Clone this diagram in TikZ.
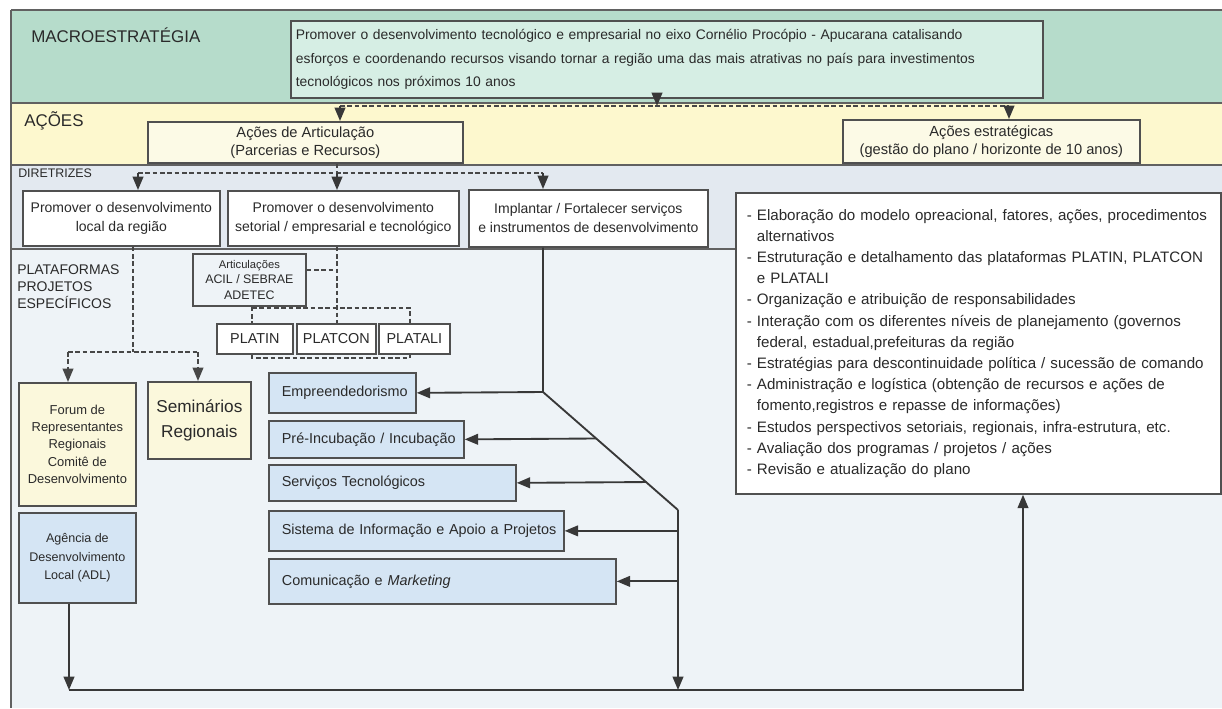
\documentclass[tikz,border=0pt]{standalone}
\usepackage{fontspec}
\setmainfont{Liberation Sans}
\usetikzlibrary{arrows.meta,calc}
\definecolor{gband}{HTML}{B6DCCB}
\definecolor{gbox}{HTML}{D6EEE4}
\definecolor{yband}{HTML}{FDF8CE}
\definecolor{ybox}{HTML}{FCFAE6}
\definecolor{dband}{HTML}{E3E9F0}
\definecolor{lowbg}{HTML}{EEF3F7}
\definecolor{bluebox}{HTML}{D5E5F4}
\definecolor{cream}{HTML}{FBF8DC}
\definecolor{edge}{HTML}{505050}
\definecolor{ink}{HTML}{2A2A2A}
\newcommand\pbox[7]{%
 \pgfmathsetmacro\pbW{(#4-#2)*0.75}%
 \pgfmathsetmacro\pbH{(#5-#3)*0.75}%
 \node[#6,anchor=north west,minimum width=\pbW pt,minimum height=\pbH pt] (#1) at (#2,#3) {#7};}
\newcommand\lbox[8]{%
 \pgfmathsetmacro\pbW{(#4-#2)*0.75}%
 \pgfmathsetmacro\pbH{(#5-#3)*0.75}%
 \pgfmathsetmacro\pbT{(#4-#2-2*#7)*0.75}%
 \pgfmathsetmacro\pbP{#7*0.75}%
 \node[#6,anchor=north west,minimum width=\pbW pt,minimum height=\pbH pt,inner xsep=\pbP pt,text width=\pbT pt,align=left] (#1) at (#2,#3) {#8};}
\tikzset{
 boxbase/.style={draw=edge,line width=1.3pt,inner sep=0pt,text=ink,align=center},
 mbox/.style={boxbase,fill=gbox},
 ybx/.style={boxbase,fill=ybox,font=\fontsize{11pt}{13.5pt}\selectfont},
 wbox/.style={boxbase,fill=white,font=\fontsize{10.5pt}{14.2pt}\selectfont},
 bbox/.style={boxbase,fill=bluebox,font=\fontsize{10.8pt}{14pt}\selectfont},
 cbox/.style={boxbase,fill=cream},
 pbx/.style={boxbase,fill=white,font=\fontsize{10.8pt}{13pt}\selectfont},
 lbl/.style={anchor=west,inner sep=0pt,text=ink},
 bandline/.style={draw=edge!90,line width=1.4pt},
 conn/.style={draw=black!78,line width=1.4pt},
 dline/.style={draw=black!72,line width=1.2pt,dash pattern=on 3.5pt off 2pt},
 arr/.style={-{Triangle[length=10pt,width=8pt]}},
}
\begin{document}
\begin{tikzpicture}[x=0.75pt,y=-0.75pt]
\useasboundingbox (0,0) rectangle (1222,708);
% backgrounds
\fill[white] (0,0) rectangle (1222,708);
\fill[gband] (11,10) rectangle (1222,103);
\fill[yband] (11,103) rectangle (1222,165);
\fill[dband] (11,165) rectangle (1222,249);
\fill[lowbg] (11,249) rectangle (1222,708);
\draw[bandline] (11,10) -- (1222,10);
\draw[bandline] (11,103) -- (1222,103);
\draw[bandline] (11,165) -- (1222,165);
\draw[bandline] (11,249) -- (1222,249);
\draw[bandline] (11,10) -- (11,708);
% row labels
\node[lbl,font=\fontsize{12.7pt}{14pt}\selectfont] (lmacro) at (31,35) {MACROESTRATÉGIA};
\node[lbl,font=\fontsize{12.7pt}{14pt}\selectfont] (lacoes) at (24,121) {AÇÕES};
\node[lbl,font=\fontsize{9.3pt}{10pt}\selectfont] (ldir) at (18,173) {DIRETRIZES};
\node[lbl,anchor=north west,align=left,font=\fontsize{10.5pt}{13pt}\selectfont] (lplat) at (17,264) {PLATAFORMAS\\PROJETOS\\ESPECÍFICOS};
% macro box
\lbox{macro}{290}{20}{1042}{97}{mbox,font=\fontsize{10.4pt}{17.6pt}\selectfont}{5}{Promover o desenvolvimento tecnológico e empresarial no eixo Cornélio Procópio - Apucarana catalisando\\esforços e coordenando recursos visando tornar a região uma das mais atrativas no país para investimentos\\tecnológicos nos próximos 10 anos}
% acoes
\pbox{art}{147}{121}{462}{162}{ybx}{Ações de Articulação\\(Parcerias e Recursos)}
\pbox{est}{842}{119}{1139}{162}{ybx}{Ações estratégicas\\(gestão do plano / horizonte de 10 anos)}
% diretrizes
\pbox{d1}{22}{190}{219}{245}{wbox}{Promover o desenvolvimento\\local da região}
\pbox{d2}{227}{190}{458}{245}{wbox}{Promover o desenvolvimento\\setorial / empresarial e tecnológico}
\pbox{d3}{468}{189}{707}{246}{wbox}{Implantar / Fortalecer serviços\\e instrumentos de desenvolvimento}
% right list
\lbox{rbox}{735}{192}{1220}{493}{boxbase,fill=white,font=\fontsize{11.35pt}{15.9pt}\selectfont}{11}{%
- Elaboração do modelo opreacional, fatores, ações, procedimentos\\
\phantom{- }alternativos\\
- Estruturação e detalhamento das plataformas PLATIN, PLATCON\\
\phantom{- }e PLATALI\\
- Organização e atribuição de responsabilidades\\
- Interação com os diferentes níveis de planejamento (governos\\
\phantom{- }federal, estadual,prefeituras da região\\
- Estratégias para descontinuidade política / sucessão de comando\\
- Administração e logística (obtenção de recursos e ações de\\
\phantom{- }fomento,registros e repasse de informações)\\
- Estudos perspectivos setoriais, regionais, infra-estrutura, etc.\\
- Avaliação dos programas / projetos / ações\\
- Revisão e atualização do plano}
% platforms
\pbox{artic}{192}{253}{305}{305}{boxbase,fill=lowbg,font=\fontsize{9.3pt}{11.8pt}\selectfont}{{\fontsize{8.4pt}{11.8pt}\selectfont Articulações}\\ACIL / SEBRAE\\ADETEC}
\pbox{platin}{216}{323}{292}{353}{pbx}{PLATIN}
\pbox{platcon}{296}{323}{375}{353}{pbx}{PLATCON}
\pbox{platali}{378}{323}{449}{353}{pbx}{PLATALI}
% local development
\pbox{forum}{18}{382}{135}{505}{cbox,font=\fontsize{9.7pt}{13.1pt}\selectfont}{Forum de\\Representantes\\Regionais\\Comitê de\\Desenvolvimento}
\pbox{sem}{147}{381}{250}{458}{cbox,font=\fontsize{12.9pt}{18.5pt}\selectfont}{Seminários\\Regionais}
\pbox{adl}{18}{512}{135}{602}{boxbase,fill=bluebox,font=\fontsize{9.4pt}{13.9pt}\selectfont}{Agência de\\Desenvolvimento\\Local (ADL)}
% services
\lbox{emp}{268}{372}{415}{412}{bbox}{3}{\hspace*{7.5pt}\mbox{Empreendedorismo}}
\lbox{pre}{268}{420}{463}{457}{bbox}{3}{\hspace*{7.5pt}\mbox{Pré-Incubação / Incubação}}
\lbox{serv}{268}{464}{515}{500}{bbox}{3}{\hspace*{7.5pt}\mbox{Serviços Tecnológicos}}
\lbox{sis}{268}{510}{563}{550}{bbox}{3}{\hspace*{7.5pt}\mbox{Sistema de Informação e Apoio a Projetos}}
\lbox{com}{268}{558}{615}{603}{bbox}{3}{\hspace*{7.5pt}\mbox{Comunicação e \textit{Marketing}}}
% connectors: macro -> acoes
\coordinate (m1) at (657,106);
\coordinate (hl) at (340,106);
\coordinate (hr) at (1009,106);
\draw[dline] (hl) -- (hr);
\draw[conn,arr] (macro.south -| m1) -- (m1);
\draw[conn,arr] (hl) -- (hl |- art.north);
\draw[conn,arr] (hr) -- (hr |- est.north);
% acoes -> diretrizes
\coordinate (a0) at (138,173);
\coordinate (a1) at (337,173);
\coordinate (a2) at (543,173);
\draw[dline] (art.south -| a1) -- (a1);
\draw[dline] (a0) -- (a2);
\draw[conn,arr] (a0) -- (a0 |- d1.north);
\draw[conn,arr] (a1) -- (a1 |- d2.north);
\draw[conn,arr] (a2) -- (a2 |- d3.north);
% d1 -> forum, seminarios
\coordinate (b0) at (133,352);
\coordinate (bl) at (68,352);
\coordinate (br) at (198,352);
\draw[dline] (d1.south -| b0) -- (b0);
\draw[dline] (bl) -- (br);
\draw[dline,arr] (bl) -- (bl |- forum.north);
\draw[dline,arr] (br) -- (br |- sem.north);
% d2 -> platforms
\coordinate (c0) at (337,270);
\draw[dline] (d2.south -| c0) -- (c0 |- platcon.north);
\draw[dline] (artic.east |- c0) -- (c0);
\coordinate (p1) at (252,308);
\coordinate (p2) at (410,308);
\draw[dline] (artic.south -| p1) -- (p1 |- platin.north);
\draw[dline] (p1) -- (p2) -- (p2 |- platali.north);
\coordinate (q1) at (252,358);
\coordinate (q2) at (410,358);
\draw[dline] (platin.south -| q1) -- (q1) -- (q2) -- (q2 |- platali.south);
% d3 -> services
\coordinate (s0) at (543,392);
\coordinate (s1) at (678,510);
\coordinate (s2) at (678,690);
\draw[conn] (d3.south -| s0) -- (s0) -- (s1);
\draw[conn,arr] (s1) -- (s2);
\draw[conn,arr] (s0) -- (emp.east);
\coordinate (sp) at ($(s0)!0.394!(s1)$);
\coordinate (ss) at ($(s0)!0.763!(s1)$);
\draw[conn,arr] (sp) -- (pre.east);
\draw[conn,arr] (ss) -- (serv.east);
\draw[conn,arr] (sis.east -| s1) -- (sis.east);
\draw[conn,arr] (com.east -| s1) -- (com.east);
% bottom loop
\coordinate (e0) at (69,690);
\coordinate (e1) at (1023,690);
\draw[conn,arr] (adl.south -| e0) -- (e0);
\draw[conn,arr] (e0) -- (e1) -- (e1 |- rbox.south);
\end{tikzpicture}
\end{document}
